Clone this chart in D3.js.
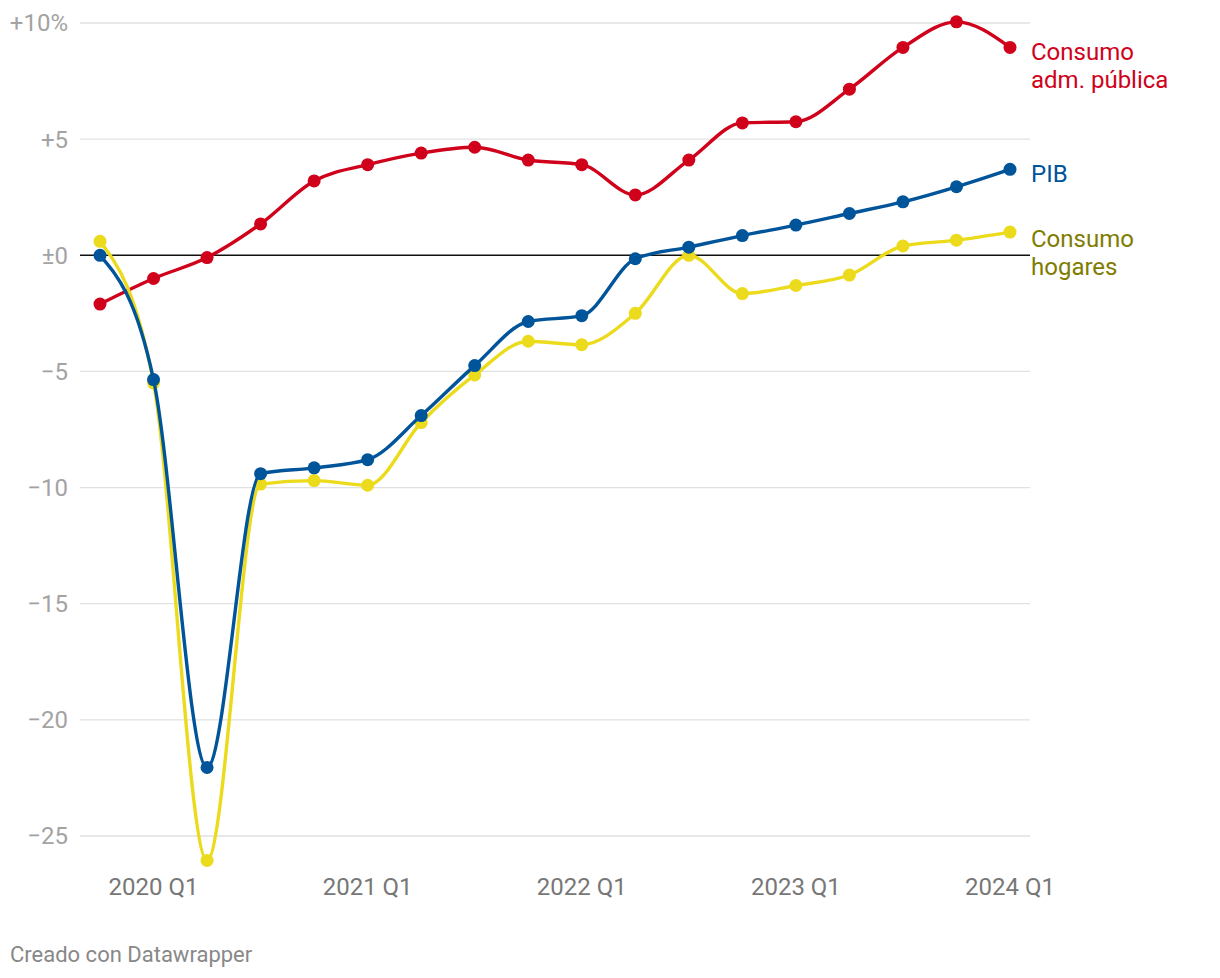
<!DOCTYPE html>
<html><head><meta charset="utf-8">
<script src="https://cdn.jsdelivr.net/npm/d3@7"></script>
<style>body{margin:0;background:#fff;font-family:Roboto,sans-serif;}</style>
</head><body><svg id="c" width="1220" height="978"></svg>
<script>
const quarters = ["2019 Q4","2020 Q1","2020 Q2","2020 Q3","2020 Q4","2021 Q1","2021 Q2","2021 Q3","2021 Q4","2022 Q1","2022 Q2","2022 Q3","2022 Q4","2023 Q1","2023 Q2","2023 Q3","2023 Q4","2024 Q1"];
const pib = [0, -5.35, -22.05, -9.4, -9.15, -8.8, -6.9, -4.75, -2.85, -2.6, -0.15, 0.35, 0.85, 1.3, 1.8, 2.3, 2.95, 3.7];
const admPublica = [-2.1, -1.0, -0.1, 1.35, 3.2, 3.9, 4.4, 4.65, 4.1, 3.9, 2.6, 4.1, 5.7, 5.75, 7.15, 8.95, 10.05, 8.95];
const hogares = [0.6, -5.5, -26.05, -9.85, -9.7, -9.9, -7.2, -5.15, -3.7, -3.85, -2.5, 0, -1.65, -1.3, -0.85, 0.4, 0.65, 1.0];
const yTicks = [10, 5, 0, -5, -10, -15, -20, -25];
const yTickLabels = ["+10%", "+5", "±0", "−5", "−10", "−15", "−20", "−25"];
const xTicks = ["2020 Q1","2021 Q1","2022 Q1","2023 Q1","2024 Q1"];

const series = [
  {name:["Consumo","adm. pública"], values: admPublica, color:"#d0021b", text:"#d0021b"},
  {name:["Consumo","hogares"], values: hogares, color:"#ecdb1c", text:"#7f7c00"},
  {name:["PIB"], values: pib, color:"#00549a", text:"#00549a"}
];

const svg = d3.select("#c");
const x = d3.scalePoint().domain(quarters).range([100, 1010]);
const y = d3.scaleLinear().domain([-25, 10]).range([836, 23]);

const g = svg.append("g");
g.selectAll("line.grid").data(yTicks.filter(d=>d!==0)).join("line")
  .attr("x1", 80).attr("x2", 1030).attr("y1", d=>y(d)).attr("y2", d=>y(d))
  .attr("stroke", "#e1e1e1").attr("stroke-width", 1.3);
g.selectAll("text.yl").data(yTicks).join("text")
  .attr("x", 68).attr("y", d=>y(d)).attr("dy", "0.35em").attr("text-anchor","end")
  .attr("font-size", 24).attr("fill", "#a3a3a3").text((d,i)=>yTickLabels[i]);
g.append("line").attr("x1",80).attr("x2",1030).attr("y1",y(0)).attr("y2",y(0))
  .attr("stroke","#111").attr("stroke-width",1.6);

g.selectAll("text.xl").data(xTicks).join("text")
  .attr("x", d=>x(d)).attr("y", 895).attr("text-anchor","middle")
  .attr("font-size", 24).attr("fill", "#777").text(d=>d);

const line = d3.line().x((d,i)=>x(quarters[i])).y(d=>y(d)).curve(d3.curveMonotoneX);

series.forEach(s=>{
  const gs = svg.append("g");
  gs.append("path").attr("d", line(s.values)).attr("fill","none")
    .attr("stroke", s.color).attr("stroke-width", 3.4).attr("stroke-linejoin","round");
  gs.selectAll("circle").data(s.values).join("circle")
    .attr("cx",(d,i)=>x(quarters[i])).attr("cy", d=>y(d)).attr("r", 6.5).attr("fill", s.color);
});

const labelPos = [
  {s:0, yTop: 52},
  {s:2, yTop: 174},
  {s:1, yTop: 239}
];
labelPos.forEach(l=>{
  const s = series[l.s];
  const t = svg.append("text").attr("x", 1031).attr("y", l.yTop)
    .attr("font-size", 24).attr("fill", s.text);
  s.name.forEach((n,i)=>t.append("tspan").attr("x",1031).attr("dy", i===0?"0.35em":"28px").text(n));
});

svg.append("text").attr("x", 10).attr("y", 962).attr("font-size", 22).attr("fill","#888").text("Creado con Datawrapper");
</script></body></html>
